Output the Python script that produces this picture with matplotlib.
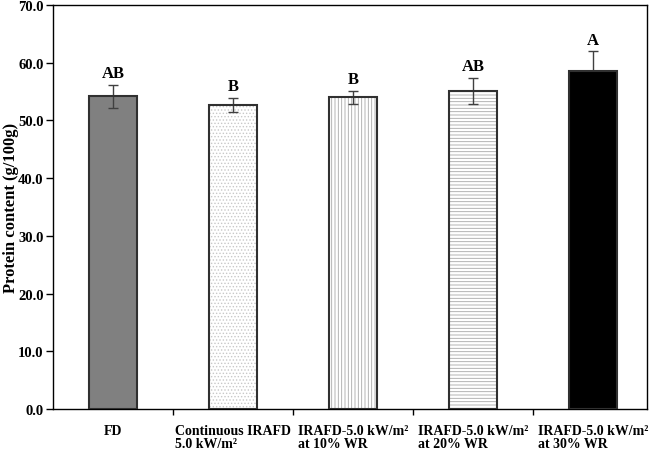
import numpy as np
import matplotlib
matplotlib.use("Agg")
from matplotlib import pyplot as plt

# 數據
categories = ["FD", "Continuous IRAFD\n5.0 kW/m²", "IRAFD-5.0 kW/m²\nat 10% WR",
              "IRAFD-5.0 kW/m²\nat 20% WR", "IRAFD-5.0 kW/m²\nat 30% WR"]
protein = [54.2, 52.7, 54.0, 55.1, 58.5]
errors = [2.0, 1.2, 1.1, 2.3, 3.5]
letters = ["AB", "B", "B", "AB", "A"]
y_ticks = [0, 10, 20, 30, 40, 50, 60, 70]

fills = ["#808080", "white", "white", "white", "black"]
hatches = [None, "." * 5, "|" * 5, "-" * 5, None]
hatch_cols = [None, "#c8c8c8", "#a8a8a8", "#a8a8a8", None]

plt.rcParams['font.family'] = ['Liberation Serif', 'DejaVu Serif']
plt.rcParams['hatch.linewidth'] = 0.6

fig = plt.figure(figsize=(6.56, 4.52), dpi=100)
ax = fig.add_axes([0.081, 0.093, 0.905, 0.894])

x = np.arange(len(categories))
w = 0.4
# 先畫填色與花紋，再畫框；黑色柱子蓋住誤差線下半
for i in range(len(x)):
    z = 5 if fills[i] == "black" else 2
    ax.bar(x[i], protein[i], w, color=fills[i], linewidth=0, zorder=z)
    if hatches[i]:
        ax.bar(x[i], protein[i], w, color="none", edgecolor=hatch_cols[i], linewidth=0,
               hatch=hatches[i], zorder=2)
ax.bar(x, protein, w, color="none", edgecolor="#303030", linewidth=1.5, zorder=6)
ax.errorbar(x, protein, yerr=errors, fmt="none", ecolor="#404040", elinewidth=1,
            capsize=3.5, capthick=1, zorder=4)

for xi, v, e, t in zip(x, protein, errors, letters):
    ax.text(xi, v + e + 0.6, t, ha="center", va="bottom", fontsize=12, fontweight="bold")

ax.set_xlim(-0.5, 4.45)
ax.set_ylim(0, 70)
ax.set_yticks(y_ticks)
ax.set_yticklabels(["%.1f" % t for t in y_ticks], fontsize=10.5, fontweight="bold")
ax.set_xticks(x[:-1] + 0.5)
ax.set_xticklabels([])
ax.tick_params(axis="x", length=4, width=1, direction="out")
ax.tick_params(axis="y", length=5, width=1, direction="out", pad=2)
for xi, c in zip(x, categories):
    ax.text(xi, -2.6, c, ha="center", va="top", multialignment="left", fontsize=10,
            fontweight="bold", linespacing=1.05)

ax.set_ylabel("Protein content (g/100g)", fontsize=12, fontweight="bold")
ax.yaxis.set_label_coords(-0.058, 0.5)
for s in ax.spines.values():
    s.set_linewidth(1)

plt.savefig("out.png", dpi=100)
